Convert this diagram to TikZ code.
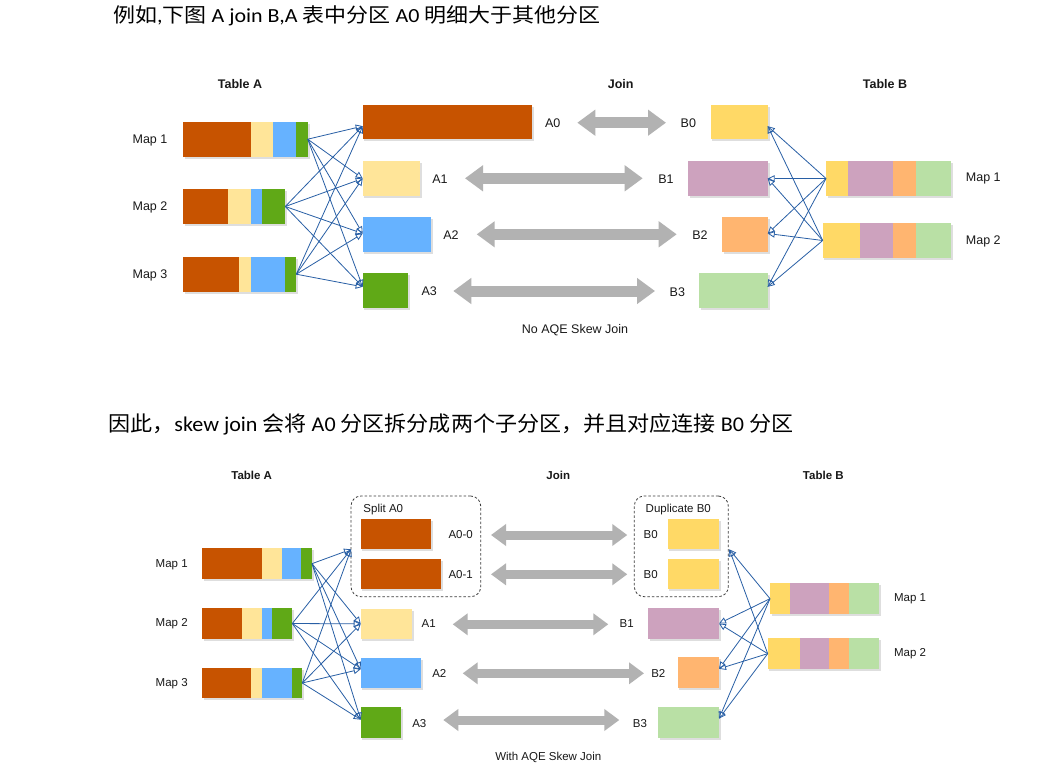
\documentclass[tikz,border=0pt]{standalone}
\usepackage{fontspec}
\usepackage{graphicx}
\setmainfont{Carlito}
\newfontfamily\cjk{Noto Sans CJK SC}
\newfontfamily\dia{Liberation Sans}
\usetikzlibrary{arrows.meta,calc}
\definecolor{brownA}{RGB}{199,83,0}
\definecolor{yelA}{RGB}{255,229,153}
\definecolor{bluA}{RGB}{102,178,255}
\definecolor{grnA}{RGB}{96,169,23}
\definecolor{yelB}{RGB}{255,217,102}
\definecolor{purB}{RGB}{205,162,190}
\definecolor{oraB}{RGB}{255,181,112}
\definecolor{grnB}{RGB}{185,224,165}
\definecolor{linkblue}{RGB}{40,95,165}
\definecolor{joingray}{RGB}{178,178,178}
\definecolor{txt}{RGB}{25,25,25}
\definecolor{grpline}{RGB}{60,60,60}
\newcommand\shd[4]{\fill[black,opacity=0.13] (#1+1.5,#2+1.8) rectangle (#3+1.8,#4+2);}
\newcommand\bx[6]{\node[seg, fill=#6, minimum width={(#4-#2)*1pt}, minimum height={(#5-#3)*1pt}] (#1) at (#2,#3) {};}
\begin{document}
\begin{tikzpicture}[x=1pt,y=-1pt,
  seg/.style={rectangle, inner sep=0pt, outer sep=0pt, anchor=north west, draw=none},
  lbl/.style={font=\dia\fontsize{12.5}{14}\selectfont, text=txt, inner sep=0pt},
  hdr/.style={font=\dia\bfseries\fontsize{12.5}{14}\selectfont, text=txt, inner sep=0pt},
  lbls/.style={font=\dia\fontsize{11.5}{13}\selectfont, text=txt, inner sep=0pt},
  hdrs/.style={font=\dia\bfseries\fontsize{11.5}{13}\selectfont, text=txt, inner sep=0pt},
  link/.style={draw=linkblue, line width=0.8pt, -{Triangle[open, length=7pt, width=6.5pt]}},
  joinT/.style={draw=joingray, line width=11pt, {Triangle[length=18pt,width=25pt]}-{Triangle[length=18pt,width=25pt]}},
  joinB/.style={draw=joingray, line width=9pt, {Triangle[length=15pt,width=21pt]}-{Triangle[length=15pt,width=21pt]}},
  grp/.style={rectangle, anchor=north west, draw=grpline, dash pattern=on 2.5pt off 2pt, rounded corners=10pt, line width=0.8pt, inner sep=0pt, outer sep=0pt},
]
\fill[white] (0,0) rectangle (1044,777);
\useasboundingbox (0,0) rectangle (1044,777);

% ---------- text lines ----------
\node[anchor=west, inner sep=0pt, text=black] (line1) at (113,16)
  {\resizebox{487pt}{\height}{\fontsize{20}{24}\selectfont{\cjk 例如},{\cjk 下图} A join B,A {\cjk 表中分区} A0 {\cjk 明细大于其他分区}}};
\node[anchor=west, inner sep=0pt, text=black] (line2) at (108,424)
  {\resizebox{685pt}{\height}{\fontsize{21}{24}\selectfont{\cjk 因此，}skew join {\cjk 会将} A0 {\cjk 分区拆分成两个子分区，并且对应连接} B0 {\cjk 分区}}};

% =============== TOP DIAGRAM ===============
\node[hdr] (tTA) at (240,84) {Table A};
\node[hdr] (tJ) at (620.7,84) {Join};
\node[hdr] (tTB) at (885,84) {Table B};

% Table A maps
\shd{183.3}{121.7}{307.7}{156.7}
\bx{tM1a}{183.3}{121.7}{250.7}{156.7}{brownA}
\bx{tM1b}{250.7}{121.7}{273.3}{156.7}{yelA}
\bx{tM1c}{273.3}{121.7}{295.7}{156.7}{bluA}
\bx{tM1d}{295.7}{121.7}{307.7}{156.7}{grnA}
\shd{183.3}{189}{285.3}{224}
\bx{tM2a}{183.3}{189}{228.3}{224}{brownA}
\bx{tM2b}{228.3}{189}{251}{224}{yelA}
\bx{tM2c}{251}{189}{262}{224}{bluA}
\bx{tM2d}{262}{189}{285.3}{224}{grnA}
\shd{183.3}{256.7}{296.3}{291.7}
\bx{tM3a}{183.3}{256.7}{239.3}{291.7}{brownA}
\bx{tM3b}{239.3}{256.7}{251}{291.7}{yelA}
\bx{tM3c}{251}{256.7}{285.3}{291.7}{bluA}
\bx{tM3d}{285.3}{256.7}{296.3}{291.7}{grnA}
\node[lbl] (tML1) at (150,140) {Map 1};
\node[lbl] (tML2) at (150,207) {Map 2};
\node[lbl] (tML3) at (150,275) {Map 3};

% A partitions
\shd{362.7}{105}{532.3}{139.3}\bx{tA0}{362.7}{105}{532.3}{139.3}{brownA}
\shd{362.7}{161}{420}{196}\bx{tA1}{362.7}{161}{420}{196}{yelA}
\shd{362.7}{217.3}{430.7}{251.7}\bx{tA2}{362.7}{217.3}{430.7}{251.7}{bluA}
\shd{362.7}{273.3}{408.3}{308.3}\bx{tA3}{362.7}{273.3}{408.3}{308.3}{grnA}
\node[lbl] (tAL0) at (552.7,122.7) {A0};
\node[lbl] (tAL1) at (440,179.3) {A1};
\node[lbl] (tAL2) at (451,235) {A2};
\node[lbl] (tAL3) at (429.3,291) {A3};

% B partitions
\shd{710.7}{105}{767.7}{139.3}\bx{tB0}{710.7}{105}{767.7}{139.3}{yelB}
\shd{688.3}{161}{767.7}{196}\bx{tB1}{688.3}{161}{767.7}{196}{purB}
\shd{722}{217.3}{767.7}{251.7}\bx{tB2}{722}{217.3}{767.7}{251.7}{oraB}
\shd{699.3}{273.3}{767.7}{308.3}\bx{tB3}{699.3}{273.3}{767.7}{308.3}{grnB}
\node[lbl] (tBL0) at (688.3,123.3) {B0};
\node[lbl] (tBL1) at (666,179.3) {B1};
\node[lbl] (tBL2) at (700,235) {B2};
\node[lbl] (tBL3) at (677.3,291.7) {B3};

% Table B maps
\shd{826}{161}{950.7}{196}
\bx{tN1a}{826}{161}{848.3}{196}{yelB}
\bx{tN1b}{848.3}{161}{893.3}{196}{purB}
\bx{tN1c}{893.3}{161}{915.7}{196}{oraB}
\bx{tN1d}{915.7}{161}{950.7}{196}{grnB}
\shd{822.7}{223.3}{950.7}{257.7}
\bx{tN2a}{822.7}{223.3}{860}{257.7}{yelB}
\bx{tN2b}{860}{223.3}{893.3}{257.7}{purB}
\bx{tN2c}{893.3}{223.3}{915.7}{257.7}{oraB}
\bx{tN2d}{915.7}{223.3}{950.7}{257.7}{grnB}
\node[lbl] (tNL1) at (983.3,178.3) {Map 1};
\node[lbl] (tNL2) at (983.3,241) {Map 2};

% join arrows
\coordinate (tj0l) at (577.3,122.7); \coordinate (tj0r) at (666,122.7);
\coordinate (tj1l) at (465,178.3);   \coordinate (tj1r) at (642.7,178.3);
\coordinate (tj2l) at (476.7,234.3); \coordinate (tj2r) at (676.7,234.3);
\coordinate (tj3l) at (453.3,291);   \coordinate (tj3r) at (655,291);
\draw[joinT] (tj0l) -- (tj0r);
\draw[joinT] (tj1l) -- (tj1r);
\draw[joinT] (tj2l) -- (tj2r);
\draw[joinT] (tj3l) -- (tj3r);

% links
\coordinate (tA0in) at ([yshift=-4pt]tA0.west);
\coordinate (tA1in) at (tA1.west);
\coordinate (tA2in) at ([yshift=1pt]tA2.west);
\coordinate (tA3in) at ([yshift=4pt]tA3.west);
\foreach \s in {tM1d,tM2d,tM3d}
  \foreach \t in {tA0in,tA1in,tA2in,tA3in}
    \draw[link] (\s.east) -- (\t);
\coordinate (tB0in) at ([yshift=-4pt]tB0.east);
\coordinate (tB1in) at (tB1.east);
\coordinate (tB2in) at ([yshift=1pt]tB2.east);
\coordinate (tB3in) at ([yshift=4pt]tB3.east);
\foreach \s in {tN1a,tN2a}
  \foreach \t in {tB0in,tB1in,tB2in,tB3in}
    \draw[link] (\s.west) -- (\t);

\node[lbl] (tcap) at (575,330) {No AQE Skew Join};

% =============== BOTTOM DIAGRAM ===============
\node[hdrs] (bTA) at (251.7,475) {Table A};
\node[hdrs] (bJ) at (558.3,475) {Join};
\node[hdrs] (bTB) at (823.3,475) {Table B};

\shd{202.3}{548.3}{312}{579}
\bx{bM1a}{202.3}{548.3}{261.7}{579}{brownA}
\bx{bM1b}{261.7}{548.3}{281.7}{579}{yelA}
\bx{bM1c}{281.7}{548.3}{301.3}{579}{bluA}
\bx{bM1d}{301.3}{548.3}{312}{579}{grnA}
\shd{202.3}{608}{292.3}{639}
\bx{bM2a}{202.3}{608}{241.7}{639}{brownA}
\bx{bM2b}{241.7}{608}{262.3}{639}{yelA}
\bx{bM2c}{262.3}{608}{271.7}{639}{bluA}
\bx{bM2d}{271.7}{608}{292.3}{639}{grnA}
\shd{202.3}{667.7}{302.3}{698.3}
\bx{bM3a}{202.3}{667.7}{251}{698.3}{brownA}
\bx{bM3b}{251}{667.7}{262.3}{698.3}{yelA}
\bx{bM3c}{262.3}{667.7}{292}{698.3}{bluA}
\bx{bM3d}{292}{667.7}{302.3}{698.3}{grnA}
\node[lbls] (bML1) at (171.7,564.3) {Map 1};
\node[lbls] (bML2) at (171.7,624) {Map 2};
\node[lbls] (bML3) at (171.7,683.3) {Map 3};

% split A0 group
\node[grp, minimum width=129.7pt, minimum height=100.7pt] (bSplit) at (351,496) {};
\node[lbls] (bSplitL) at (383.3,509.3) {Split A0};
\shd{360.7}{518.7}{430.7}{549.3}\bx{bA00}{360.7}{518.7}{430.7}{549.3}{brownA}
\shd{360.7}{558.7}{440.7}{589}\bx{bA01}{360.7}{558.7}{440.7}{589}{brownA}
\node[lbls] (bAL00) at (460.7,535) {A0-0};
\node[lbls] (bAL01) at (460.7,574.3) {A0-1};
\shd{360.7}{608.7}{411.7}{639}\bx{bA1}{360.7}{608.7}{411.7}{639}{yelA}
\shd{360.7}{658}{420.7}{688.3}\bx{bA2}{360.7}{658}{420.7}{688.3}{bluA}
\shd{360.7}{707.3}{401}{738}\bx{bA3}{360.7}{707.3}{401}{738}{grnA}
\node[lbls] (bAL1) at (428.7,624) {A1};
\node[lbls] (bAL2) at (439.3,673.3) {A2};
\node[lbls] (bAL3) at (419.3,723.3) {A3};

% duplicate B0 group
\node[grp, minimum width=94pt, minimum height=100.7pt] (bDup) at (634.3,496) {};
\node[lbls] (bDupL) at (678.3,510) {Duplicate B0};
\shd{667.7}{518.7}{719}{549.3}\bx{bB0a}{667.7}{518.7}{719}{549.3}{yelB}
\shd{667.7}{558.7}{719}{589}\bx{bB0b}{667.7}{558.7}{719}{589}{yelB}
\node[lbls] (bBL0a) at (650.7,535) {B0};
\node[lbls] (bBL0b) at (650.7,574.3) {B0};
\shd{648.3}{608}{719}{639}\bx{bB1}{648.3}{608}{719}{639}{purB}
\shd{677.7}{657.3}{719}{688.3}\bx{bB2}{677.7}{657.3}{719}{688.3}{oraB}
\shd{658}{707.3}{719}{738}\bx{bB3}{658}{707.3}{719}{738}{grnB}
\node[lbls] (bBL1) at (626.7,624) {B1};
\node[lbls] (bBL2) at (658.3,673.3) {B2};
\node[lbls] (bBL3) at (640,723.3) {B3};

% Table B maps
\shd{770}{583.3}{879.3}{614}
\bx{bN1a}{770}{583.3}{790}{614}{yelB}
\bx{bN1b}{790}{583.3}{829.3}{614}{purB}
\bx{bN1c}{829.3}{583.3}{849.3}{614}{oraB}
\bx{bN1d}{849.3}{583.3}{879.3}{614}{grnB}
\shd{767.7}{638.3}{879.3}{669}
\bx{bN2a}{767.7}{638.3}{800}{669}{yelB}
\bx{bN2b}{800}{638.3}{829.3}{669}{purB}
\bx{bN2c}{829.3}{638.3}{849.3}{669}{oraB}
\bx{bN2d}{849.3}{638.3}{879.3}{669}{grnB}
\node[lbls] (bNL1) at (910,599) {Map 1};
\node[lbls] (bNL2) at (910,654) {Map 2};

% join arrows
\coordinate (bj0l) at (491,535);     \coordinate (bj0r) at (627.3,535);
\coordinate (bj1l) at (491,574.3);   \coordinate (bj1r) at (627.3,574.3);
\coordinate (bj2l) at (452.7,624.3); \coordinate (bj2r) at (608.3,624.3);
\coordinate (bj3l) at (462.7,673.3); \coordinate (bj3r) at (644,673.3);
\coordinate (bj4l) at (443.3,720);   \coordinate (bj4r) at (619.3,720);
\draw[joinB] (bj0l) -- (bj0r);
\draw[joinB] (bj1l) -- (bj1r);
\draw[joinB] (bj2l) -- (bj2r);
\draw[joinB] (bj3l) -- (bj3r);
\draw[joinB] (bj4l) -- (bj4r);

% links
\coordinate (bSin) at ([yshift=-3pt]bSplit.west);
\coordinate (bA1in) at (bA1.west);
\coordinate (bA2in) at ([yshift=4pt]bA2.west);
\coordinate (bA3in) at ([yshift=3pt]bA3.west);
\foreach \s in {bM1d,bM2d,bM3d}
  \foreach \t in {bSin,bA1in,bA2in,bA3in}
    \draw[link] (\s.east) -- (\t);
\coordinate (bDin) at ([yshift=-3pt,xshift=1pt]bDup.east);
\coordinate (bB1in) at (bB1.east);
\coordinate (bB2in) at ([yshift=4pt]bB2.east);
\coordinate (bB3in) at ([yshift=4pt]bB3.east);
\foreach \s in {bN1a,bN2a}
  \foreach \t in {bDin,bB1in,bB2in,bB3in}
    \draw[link] (\s.west) -- (\t);

\node[lbls] (bcap) at (548.3,757.3) {With AQE Skew Join};
\end{tikzpicture}
\end{document}
